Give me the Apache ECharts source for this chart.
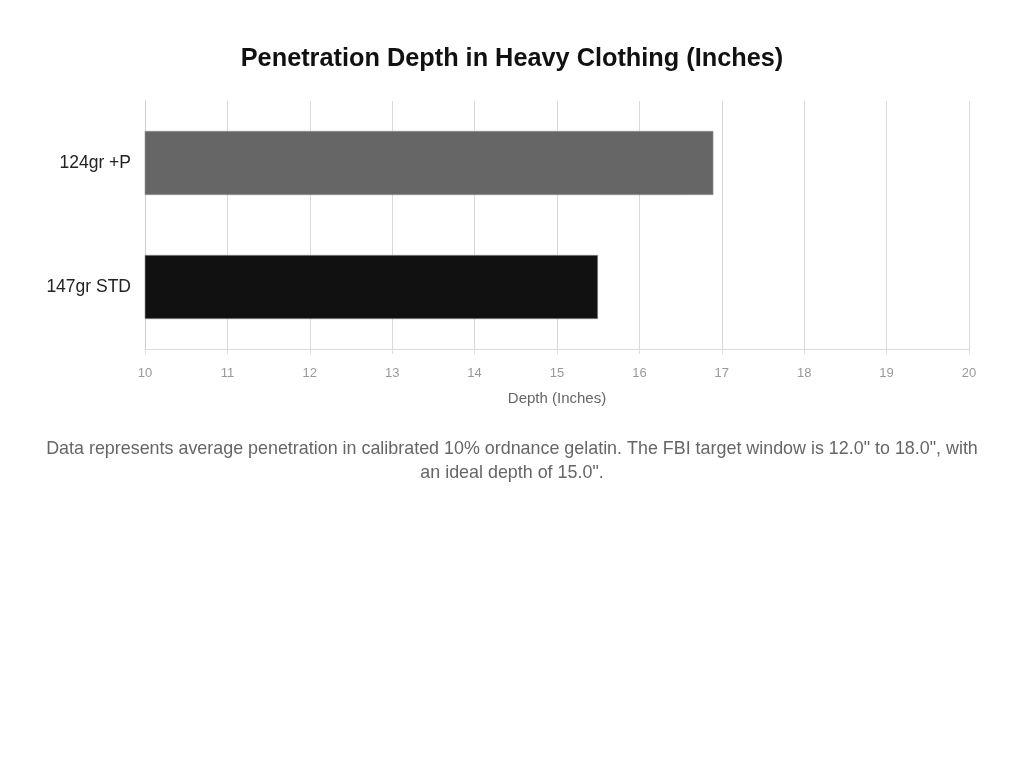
<!DOCTYPE html>
<html>
<head>
<meta charset="utf-8">
<script src="https://cdn.jsdelivr.net/npm/echarts@6/dist/echarts.min.js"></script>
<style>
html,body{margin:0;padding:0;background:#fff;}
#main{width:1024px;height:768px;}
</style>
</head>
<body>
<div id="main"></div>
<script>
const categories = ['147gr STD', '124gr +P'];
const depthValues = [15.5, 16.9];
const barColors = ['#111111', '#666666'];
const axisMin = 10;
const axisMax = 20;
const titleText = 'Penetration Depth in Heavy Clothing (Inches)';
const noteText = 'Data represents average penetration in calibrated 10% ordnance gelatin. The FBI target window is 12.0" to 18.0", with\nan ideal depth of 15.0".';

const FONT = 'Arial, Helvetica, sans-serif';
const chart = echarts.init(document.getElementById('main'));
chart.setOption({
  animation: false,
  textStyle: { fontFamily: FONT },
  title: [{
    text: titleText,
    left: 'center',
    top: 42,
    textStyle: { fontSize: 25.3, fontWeight: 'bold', color: '#111', fontFamily: FONT }
  }],
  graphic: [{
    type: 'text',
    left: 'center',
    top: 437,
    style: {
      text: noteText,
      fill: '#666',
      fontSize: 17.9,
      fontFamily: FONT,
      textAlign: 'center',
      lineHeight: 24
    }
  }],
  grid: { left: 145, right: 55, top: 101, height: 248, containLabel: false },
  xAxis: {
    type: 'value',
    min: axisMin,
    max: axisMax,
    interval: 1,
    name: 'Depth (Inches)',
    nameLocation: 'middle',
    nameGap: 42,
    nameTextStyle: { color: '#666', fontSize: 15, fontFamily: FONT },
    axisLine: { show: true, lineStyle: { color: '#ddd' } },
    axisTick: { show: true, length: 5, lineStyle: { color: '#ddd' } },
    axisLabel: { color: '#999', fontSize: 13, margin: 18, fontFamily: FONT },
    splitLine: { show: true, lineStyle: { color: '#d9d9d9', width: 1 } }
  },
  yAxis: {
    type: 'category',
    data: categories,
    axisLine: { show: true, lineStyle: { color: '#ccc' } },
    axisTick: { show: false },
    axisLabel: { color: '#222', fontSize: 17.5, margin: 14, fontFamily: FONT },
    splitLine: { show: false }
  },
  series: [{
    type: 'bar',
    data: depthValues.map((v, i) => ({ value: v, itemStyle: { color: barColors[i] } })),
    barWidth: '52%',
    itemStyle: { borderColor: 'rgba(150,150,150,0.6)', borderWidth: 1 }
  }]
});
</script>
</body>
</html>
